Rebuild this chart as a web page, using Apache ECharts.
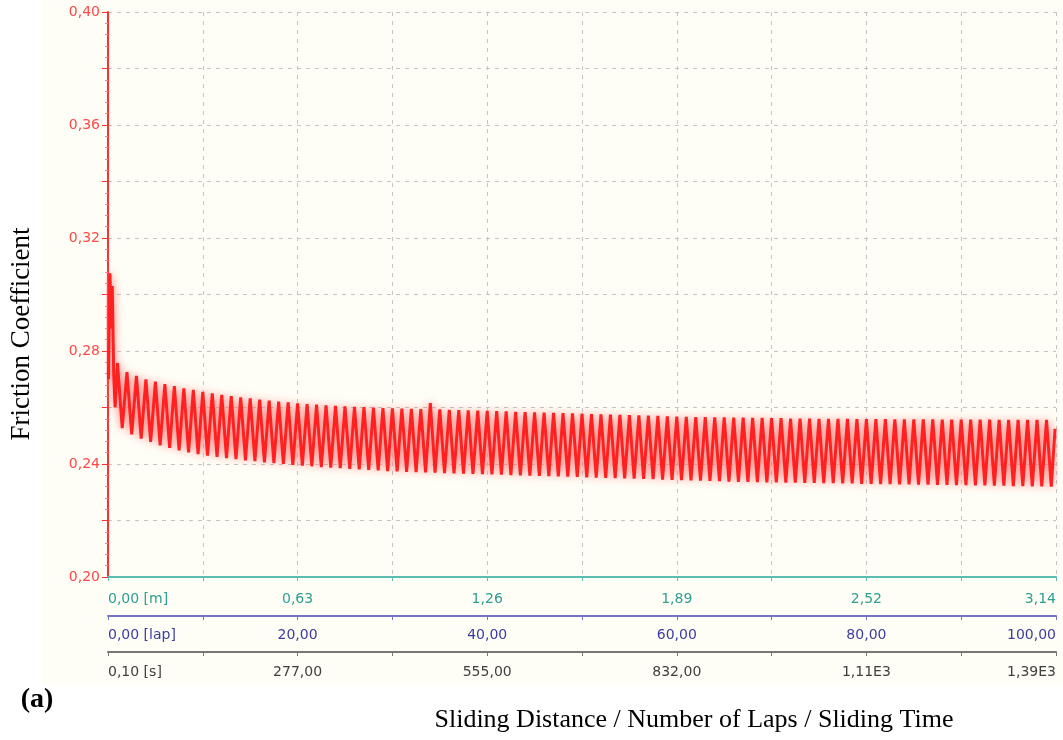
<!DOCTYPE html>
<html>
<head>
<meta charset="utf-8">
<script src="https://cdn.jsdelivr.net/npm/echarts@6/dist/echarts.min.js"></script>
<style>
html,body{margin:0;padding:0;background:#fff;}
#chart{width:1063px;height:740px;}
</style>
</head>
<body>
<div id="chart"></div>
<script>
// ---- data ----
// x positions are in laps (0..100), values are friction coefficient
const startLaps   = [0.05, 0.20, 0.35, 0.45, 0.60, 0.75];
const startValues = [0.270, 0.3075, 0.288, 0.303, 0.272, 0.260];

// one peak and one trough per lap, laps 1..99
const peakValues = [
  0.2757,0.2725,0.2712,0.2700,0.2692,0.2683,0.2676,0.2668,0.2662,0.2655,
  0.2650,0.2645,0.2640,0.2636,0.2632,0.2628,0.2624,0.2621,0.2618,0.2615,
  0.2612,0.2610,0.2608,0.2606,0.2604,0.2602,0.2601,0.2600,0.2598,0.2597,
  0.2596,0.2595,0.2594,0.2616,0.2593,0.2592,0.2591,0.2590,0.2589,0.2588,
  0.2587,0.2586,0.2585,0.2584,0.2583,0.2582,0.2581,0.2580,0.2579,0.2578,
  0.2577,0.2576,0.2575,0.2574,0.2573,0.2572,0.2571,0.2570,0.2569,0.2568,
  0.2567,0.2566,0.2566,0.2565,0.2565,0.2564,0.2564,0.2563,0.2563,0.2562,
  0.2562,0.2561,0.2561,0.2561,0.2560,0.2560,0.2560,0.2560,0.2559,0.2559,
  0.2559,0.2559,0.2558,0.2558,0.2558,0.2558,0.2558,0.2557,0.2557,0.2557,
  0.2557,0.2557,0.2557,0.2556,0.2556,0.2556,0.2556,0.2556,0.2556
];
const troughValues = [
  0.2527,0.2505,0.2490,0.2478,0.2466,0.2457,0.2448,0.2441,0.2435,0.2430,
  0.2425,0.2421,0.2417,0.2413,0.2410,0.2406,0.2403,0.2400,0.2397,0.2394,
  0.2392,0.2389,0.2387,0.2385,0.2383,0.2381,0.2379,0.2377,0.2375,0.2374,
  0.2372,0.2371,0.2370,0.2369,0.2368,0.2367,0.2366,0.2365,0.2364,0.2363,
  0.2362,0.2361,0.2360,0.2359,0.2358,0.2357,0.2356,0.2355,0.2354,0.2353,
  0.2352,0.2351,0.2350,0.2349,0.2348,0.2347,0.2346,0.2345,0.2344,0.2343,
  0.2342,0.2341,0.2340,0.2339,0.2338,0.2337,0.2337,0.2336,0.2335,0.2335,
  0.2334,0.2334,0.2333,0.2333,0.2332,0.2332,0.2331,0.2331,0.2330,0.2330,
  0.2329,0.2329,0.2328,0.2328,0.2327,0.2327,0.2326,0.2326,0.2325,0.2325,
  0.2324,0.2324,0.2323,0.2323,0.2322,0.2322,0.2321,0.2321,0.2320
];
const endLap = 99.9;
const endValue = 0.2524;

// tick labels
const yTickLabels   = ['0,20','0,24','0,28','0,32','0,36','0,40'];
const distLabels    = ['0,00 [m]','0,63','1,26','1,89','2,52','3,14'];
const lapLabels     = ['0,00 [lap]','20,00','40,00','60,00','80,00','100,00'];
const timeLabels    = ['0,10 [s]','277,00','555,00','832,00','1,11E3','1,39E3'];

// ---- build series ----
const seriesData = [];
for (let i = 0; i < startLaps.length; i++) seriesData.push([startLaps[i], startValues[i]]);
for (let i = 0; i < peakValues.length; i++) {
  seriesData.push([i + 1, peakValues[i]]);
  seriesData.push([i + 1.5, troughValues[i]]);
}
seriesData.push([endLap, endValue]);

const chart = echarts.init(document.getElementById('chart'), null, {renderer: 'canvas'});
const labelFont = 'DejaVu Sans';

function xLabelFormatter(labels) {
  return function (v) {
    const r = Math.round(v);
    if (r % 20 !== 0) return '';
    return labels[r / 20];
  };
}

function xAxisCfg(labels, color, lineColor, offset, margin, splitLine) {
  return {
    type: 'value', min: 0, max: 100, interval: 10, position: 'bottom', offset: offset,
    axisLine: {show: true, lineStyle: {color: lineColor, width: 2}},
    axisTick: {show: true, length: 4, lineStyle: {color: lineColor, width: 1}},
    axisLabel: {
      show: true, color: color, fontFamily: labelFont, fontSize: 14, margin: margin,
      formatter: xLabelFormatter(labels), showMinLabel: true, showMaxLabel: true,
      alignMinLabel: 'left', alignMaxLabel: 'right'
    },
    splitLine: splitLine ? {show: true, lineStyle: {color: '#c4c4c4', type: [4, 5], width: 1}} : {show: false}
  };
}

const option = {
  backgroundColor: '#ffffff',
  animation: false,
  graphic: [
    {type: 'rect', z: -10, silent: true, shape: {x: 42, y: 0, width: 1021, height: 685}, style: {fill: '#fefef6'}},
    {type: 'text', silent: true, x: 22, y: 334, rotation: Math.PI / 2,
     style: {text: 'Friction Coefficient', font: '27px "Liberation Serif"', fill: '#000',
             textAlign: 'center', textVerticalAlign: 'middle'}},
    {type: 'text', silent: true, x: 37, y: 700,
     style: {text: '(a)', font: 'bold 28px "Liberation Serif"', fill: '#000',
             textAlign: 'center', textVerticalAlign: 'middle'}},
    {type: 'text', silent: true, x: 694, y: 720,
     style: {text: 'Sliding Distance / Number of Laps / Sliding Time', font: '26px "Liberation Serif"', fill: '#000',
             textAlign: 'center', textVerticalAlign: 'middle'}}
  ],
  grid: {left: 108, right: 7, top: 12, bottom: 163, containLabel: false},
  xAxis: [
    xAxisCfg(distLabels, '#2e9e90', '#5cbcb0', 0, 15, true),
    xAxisCfg(lapLabels, '#3c3ca0', '#7474c4', 39, 12, false),
    xAxisCfg(timeLabels, '#404040', '#777777', 75, 13, false)
  ],
  yAxis: {
    type: 'value', min: 0.2, max: 0.4, interval: 0.02,
    axisLine: {show: true, lineStyle: {color: '#ff3030', width: 2}},
    axisTick: {show: true, length: 6, lineStyle: {color: '#ff3030'}},
    minorTick: {show: true, splitNumber: 5, length: 3, lineStyle: {color: '#ff8080'}},
    axisLabel: {
      color: '#ff4848', fontFamily: labelFont, fontSize: 14, margin: 8,
      formatter: function (v) {
        const r = Math.round(v * 100);
        if (r % 4 !== 0) return '';
        return yTickLabels[(r - 20) / 4];
      }
    },
    splitLine: {show: true, lineStyle: {color: '#c4c4c4', type: [4, 5], width: 1}}
  },
  series: [{
    type: 'line', xAxisIndex: 0, data: seriesData, showSymbol: false, symbol: 'none',
    lineStyle: {color: '#ff2020', width: 3, shadowColor: 'rgba(255,110,110,1)', shadowBlur: 9}, z: 5
  }]
};
chart.setOption(option);
</script>
</body>
</html>
